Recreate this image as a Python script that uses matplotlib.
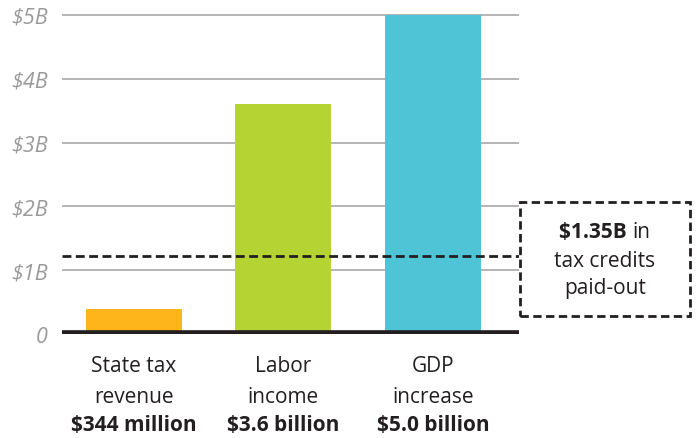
import matplotlib
matplotlib.use("Agg")
import matplotlib.pyplot as plt
from matplotlib.patches import Rectangle
from matplotlib.transforms import blended_transform_factory

categories = [["State tax", "revenue"], ["Labor", "income"], ["GDP", "increase"]]
amount_labels = ["$344 million", "$3.6 billion", "$5.0 billion"]
values = [0.39, 3.6, 5.0]
colors = ["#FDB51B", "#B6D334", "#4FC4D6"]
yticks = [0, 1, 2, 3, 4, 5]
yticklabels = ["0", "$1B", "$2B", "$3B", "$4B", "$5B"]
credits_line = 1.23
credits_bold = "$1.35B"
credits_rest = ["in", "tax credits", "paid-out"]

plt.rcParams['font.family'] = ['Open Sans', 'DejaVu Sans']
FS = 15
TXT = "#231f20"

fig = plt.figure(figsize=(6.97, 4.39), dpi=100)
W, H = 697, 439
ax_left, ax_right = 62 / W, 519 / W
ax_bottom = (H - 335) / H
ax_top = (H - 12.8) / H
ax = fig.add_axes([ax_left, ax_bottom, ax_right - ax_left, ax_top - ax_bottom])

x = list(range(len(values)))
ax.bar(x, values, width=0.642, color=colors, zorder=2)
ax.set_xlim(-0.48, 2.575)
ax.set_ylim(0, 5.05)

for t in yticks[1:]:
    ax.axhline(t, color="#a0a0a0", lw=1.1, zorder=1)
ax.axhline(0, color=TXT, lw=5.5, zorder=4)
ax.axhline(credits_line, color=TXT, lw=2.0, ls=(0, (3.2, 1.6)), zorder=3)

for s in ax.spines.values():
    s.set_visible(False)
ax.set_xticks([])
ax.set_yticks(yticks)
ax.set_yticklabels(yticklabels, fontstyle="italic", color="#9a9a9a", fontsize=15.5)
ax.tick_params(axis="y", length=0, pad=10)

trans = blended_transform_factory(ax.transData, fig.transFigure)
for xi, cat, amt in zip(x, categories, amount_labels):
    fig.text(xi, (H - 372) / H, cat[0], transform=trans, ha="center", va="baseline",
             fontsize=FS, color=TXT)
    fig.text(xi, (H - 403) / H, cat[1], transform=trans, ha="center", va="baseline",
             fontsize=FS, color=TXT)
    fig.text(xi, (H - 431) / H, amt, transform=trans, ha="center", va="baseline",
             fontsize=FS, fontweight="bold", color=TXT)

# dashed callout box
bx0, bx1 = 520 / W, 690 / W
by_top, by_bot = (H - 203) / H, (H - 317) / H
rect = Rectangle((bx0, by_bot), bx1 - bx0, by_top - by_bot, transform=fig.transFigure,
                 fill=False, edgecolor=TXT, lw=2.0, ls=(0, (3.0, 1.6)))
fig.add_artist(rect)
cx = (bx0 + bx1) / 2

renderer = fig.canvas.get_renderer()
tb = fig.text(0, (H - 238) / H, credits_bold + " ", ha="left", va="baseline",
              fontsize=FS, fontweight="bold", color=TXT)
tr = fig.text(0, (H - 238) / H, credits_rest[0], ha="left", va="baseline",
              fontsize=FS, color=TXT)
wb = tb.get_window_extent(renderer).width / W
wr = tr.get_window_extent(renderer).width / W
start = cx - (wb + wr) / 2
tb.set_x(start)
tr.set_x(start + wb)
fig.text(cx, (H - 267) / H, credits_rest[1], ha="center", va="baseline", fontsize=FS, color=TXT)
fig.text(cx, (H - 294) / H, credits_rest[2], ha="center", va="baseline", fontsize=FS, color=TXT)

fig.savefig("out.png", dpi=100)
